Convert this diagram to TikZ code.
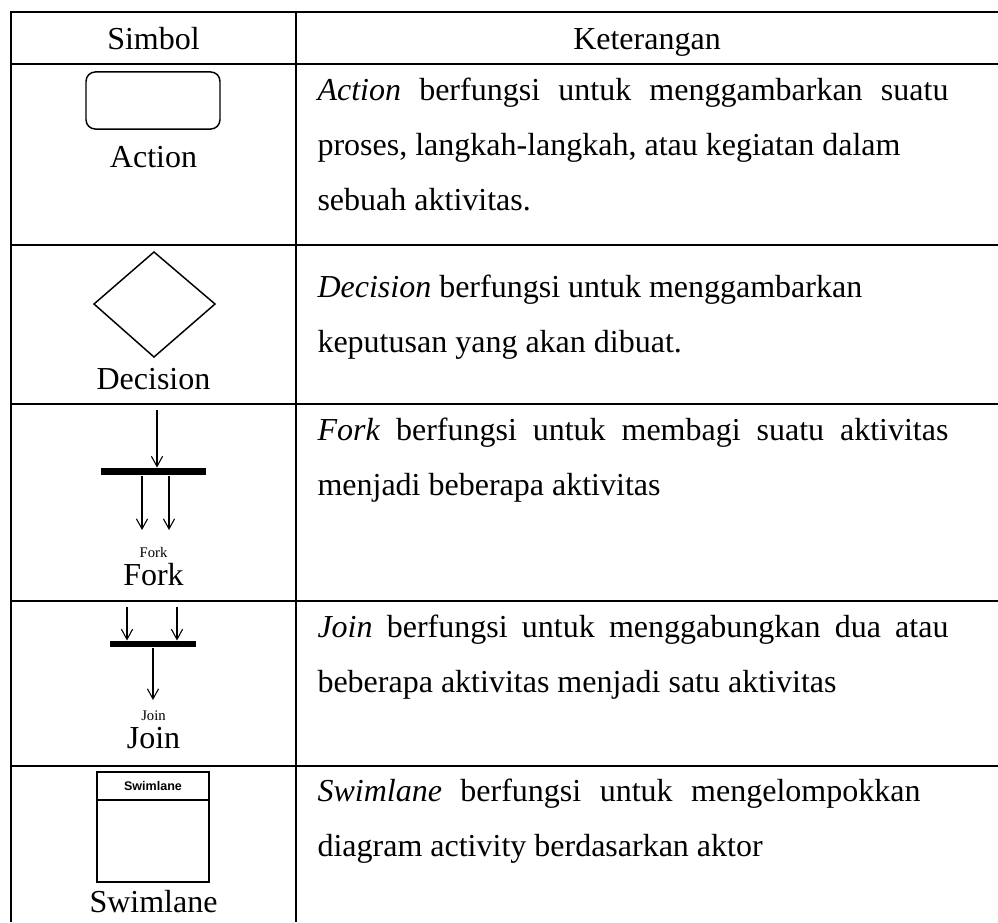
\documentclass[tikz,border=0pt]{standalone}
\usepackage{fontspec}
\setmainfont{Liberation Serif}
\newfontfamily\lanefont{Liberation Sans}
\usetikzlibrary{arrows.meta}
\begin{document}
\begin{tikzpicture}[x=0.375pt,y=-0.375pt,
  grid/.style={line width=1.1pt},
  txt/.style={anchor=base west, inner sep=0pt, font=\fontsize{12}{14}\selectfont},
  lbl/.style={anchor=base, inner sep=0pt, font=\fontsize{12}{14}\selectfont},
  tinylbl/.style={anchor=base, inner sep=0pt, font=\fontsize{5.5}{6}\selectfont},
  sym/.style={line width=0.55pt},
  arr/.style={line width=0.4pt, -{Straight Barb[length=3.8pt,width=4.2pt]}},
  bar/.style={fill=black, inner sep=0pt}]
\useasboundingbox (0,0) rectangle (998,922);

% table rules
\draw[grid] (998,12) -- (11,12) -- (11,922);
\draw[grid] (296,12) -- (296,922);
\foreach \yy in {64,245,404,601,766}
  \draw[grid] (11,\yy) -- (998,\yy);

% header
\node[lbl] (hsym) at (153.5,49) {Simbol};
\node[lbl] (hket) at (647,49) {Keterangan};

% Action
\node[draw, sym, rounded corners=3.5pt, minimum width=50.25pt, minimum height=21.4pt, inner sep=0pt] (action) at (153,100.5) {};
\node[lbl] (actionlbl) at (153.5,167) {Action};
\node[txt] (a1) at (317,100) {\makebox[236.6pt][s]{\textit{Action} berfungsi untuk menggambarkan suatu}};
\node[txt] (a2) at (317,155) {proses, langkah-langkah, atau kegiatan dalam};
\node[txt] (a3) at (317,210) {sebuah aktivitas.};

% Decision
\draw[sym] (154,252) -- (215,304) -- (154,357) -- (94,304) -- cycle;
\node[lbl] (declbl) at (153.5,389) {Decision};
\node[txt] (d1) at (317,297) {\textit{Decision} berfungsi untuk menggambarkan};
\node[txt] (d2) at (317,352) {keputusan yang akan dibuat.};

% Fork
\node[bar, minimum width=39.4pt, minimum height=2.6pt] (forkbar) at (153.5,471.5) {};
\coordinate (forkin) at (157,410);
\coordinate (forkoutA) at (142,530);
\coordinate (forkoutB) at (169,530);
\draw[arr] (forkin) -- (forkin |- forkbar.north);
\draw[arr] (forkbar.south -| forkoutA) -- (forkoutA);
\draw[arr] (forkbar.south -| forkoutB) -- (forkoutB);
\node[tinylbl] (forksmall) at (153.5,557) {Fork};
\node[lbl] (forklbl) at (153.5,585) {Fork};
\node[txt] (f1) at (317,440) {\makebox[236.6pt][s]{\textit{Fork} berfungsi untuk membagi suatu aktivitas}};
\node[txt] (f2) at (317,495) {menjadi beberapa aktivitas};

% Join
\node[bar, minimum width=32.25pt, minimum height=2.25pt] (joinbar) at (153,644) {};
\coordinate (joininA) at (127,607);
\coordinate (joininB) at (177,607);
\coordinate (joinout) at (153,700);
\draw[arr] (joininA) -- (joininA |- joinbar.north);
\draw[arr] (joininB) -- (joininB |- joinbar.north);
\draw[arr] (joinbar.south -| joinout) -- (joinout);
\node[tinylbl] (joinsmall) at (153.5,720) {Join};
\node[lbl] (joinlbl) at (153.5,748) {Join};
\node[txt] (j1) at (317,637) {\makebox[236.6pt][s]{\textit{Join} berfungsi untuk menggabungkan dua atau}};
\node[txt] (j2) at (317,692) {beberapa aktivitas menjadi satu aktivitas};

% Swimlane
\node[draw, line width=0.45pt, minimum width=42pt, minimum height=41.25pt, inner sep=0pt] (lane) at (153,827) {};
\draw[line width=0.45pt] (lane.west |- 0,800) -- (lane.east |- 0,800);
\node[anchor=base, inner sep=0pt, font=\lanefont\bfseries\fontsize{4.7}{5}\selectfont] (lanetitle) at (153,790) {Swimlane};
\node[lbl] (lanelbl) at (153.5,912) {Swimlane};
\node[txt] (s1) at (317,801) {\makebox[226.1pt][s]{\textit{Swimlane} berfungsi untuk mengelompokkan}};
\node[txt] (s2) at (317,856) {diagram activity berdasarkan aktor};
\end{tikzpicture}
\end{document}
